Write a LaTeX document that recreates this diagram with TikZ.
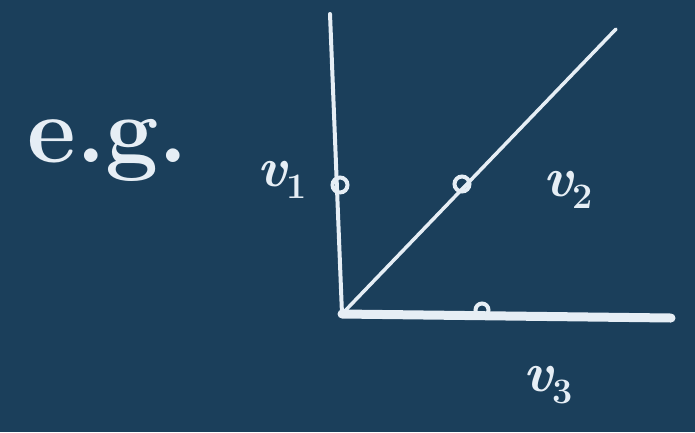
\documentclass[tikz,border=0pt]{standalone}
\usepackage{xcolor}
\definecolor{board}{HTML}{1B3F5B}
\definecolor{chalk}{HTML}{E6EEF5}
\newcommand{\vsub}[1]{{\itshape v}\raisebox{-0.22em}{\fontsize{36}{36}\selectfont\upshape #1}}
\begin{document}
\begin{tikzpicture}[x=1bp,y=-1bp,
  stroke/.style={draw=chalk,line cap=round,line join=round},
  tick/.style={circle,draw=chalk,line width=4bp,minimum size=15bp,inner sep=0pt},
  lbl/.style={text=chalk,inner sep=0pt,font=\fontsize{56}{60}\selectfont\bfseries}]
\fill[board] (0,0) rectangle (695,432);
\useasboundingbox (0,0) rectangle (695,432);
\coordinate (O) at (342,314);
\coordinate (top) at (330,14);
\coordinate (diag) at (616,29);
\coordinate (right) at (671,318);
\draw[stroke,line width=4bp] (O) -- (top);
\draw[stroke,line width=3.5bp] (O) -- (diag);
\draw[stroke,line width=9bp] (O) -- (right);
\node[tick] (m1) at (340,185) {};
\node[tick] (m2) at (462,184) {};
\node[tick,minimum size=13bp] (m3) at (482,310) {};
\node[lbl,font=\fontsize{95}{95}\selectfont\bfseries] (eg) at (108,150) {e.g.};
\node[lbl] (v1) at (282,180) {\vsub{1}};
\node[lbl] (v2) at (568,190) {\vsub{2}};
\node[lbl] (v3) at (548,385) {\vsub{3}};
\end{tikzpicture}
\end{document}
